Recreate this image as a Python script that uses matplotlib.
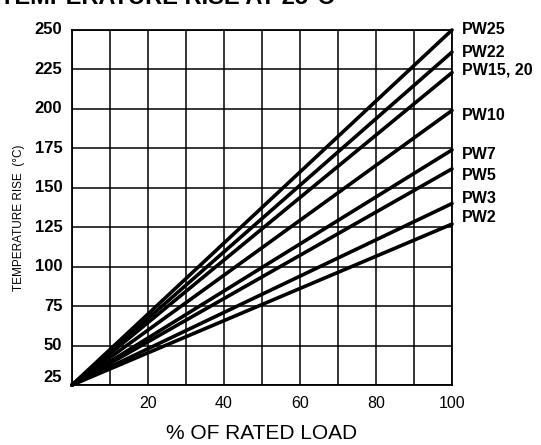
import matplotlib.pyplot as plt
import numpy as np

# power rating curves: temperature at 0% and 100% of rated load
series = ["PW25", "PW22", "PW15, 20", "PW10", "PW7", "PW5", "PW3", "PW2"]
load_pct = [0, 100]
start_temp = 25
end_temp = [250, 236, 223, 199, 174, 162, 140, 127]
label_nudge = [0, 0, 1.5, -3, -3, -4, 3, 4]

x_ticks = [20, 40, 60, 80, 100]
y_ticks = [25, 50, 75, 100, 125, 150, 175, 200, 225, 250]

plt.rcParams['font.family'] = ['Liberation Sans', 'DejaVu Sans']

fig = plt.figure(figsize=(5.41, 4.45), dpi=100)
ax = fig.add_axes([0.1331, 0.1348, 0.7024, 0.7978])

for name, end, nudge in zip(series, end_temp, label_nudge):
    ax.plot(load_pct, [start_temp, end], color='black', lw=2.6,
            solid_capstyle='round', clip_on=False, zorder=3)
    ax.text(102.5, end + nudge, name, fontsize=11.5, fontweight='bold',
            va='center', ha='left')

ax.set_xlim(0, 100)
ax.set_ylim(25, 250)
ax.set_yticks(y_ticks)
ax.grid(True, color='black', lw=1.1)
ax.set_axisbelow(True)
for s in ax.spines.values():
    s.set_linewidth(1.3)

ax.set_xticks(np.arange(0, 101, 10))
ax.set_xticklabels(['' if v not in x_ticks else str(v) for v in range(0, 101, 10)])
ax.tick_params(axis='x', length=0, pad=8, labelsize=11.5)
ax.tick_params(axis='y', length=0, pad=7, labelsize=12)
for t in ax.get_yticklabels():
    t.set_fontweight('bold')
    t.set_va('bottom' if t.get_text() == '25' else 'center')

ax.set_xlabel("% OF RATED LOAD", fontsize=15, labelpad=9)
ax.set_ylabel("TEMPERATURE RISE  (°C)", fontsize=8.5)
ax.yaxis.set_label_coords(-0.125, 0.47)

fig.text(0.0, 1 - 4 / 445, "TEMPERATURE RISE AT 25°C", fontsize=17,
         fontweight='bold', va='baseline', ha='left')

fig.savefig("out.png", dpi=100, facecolor='white')
